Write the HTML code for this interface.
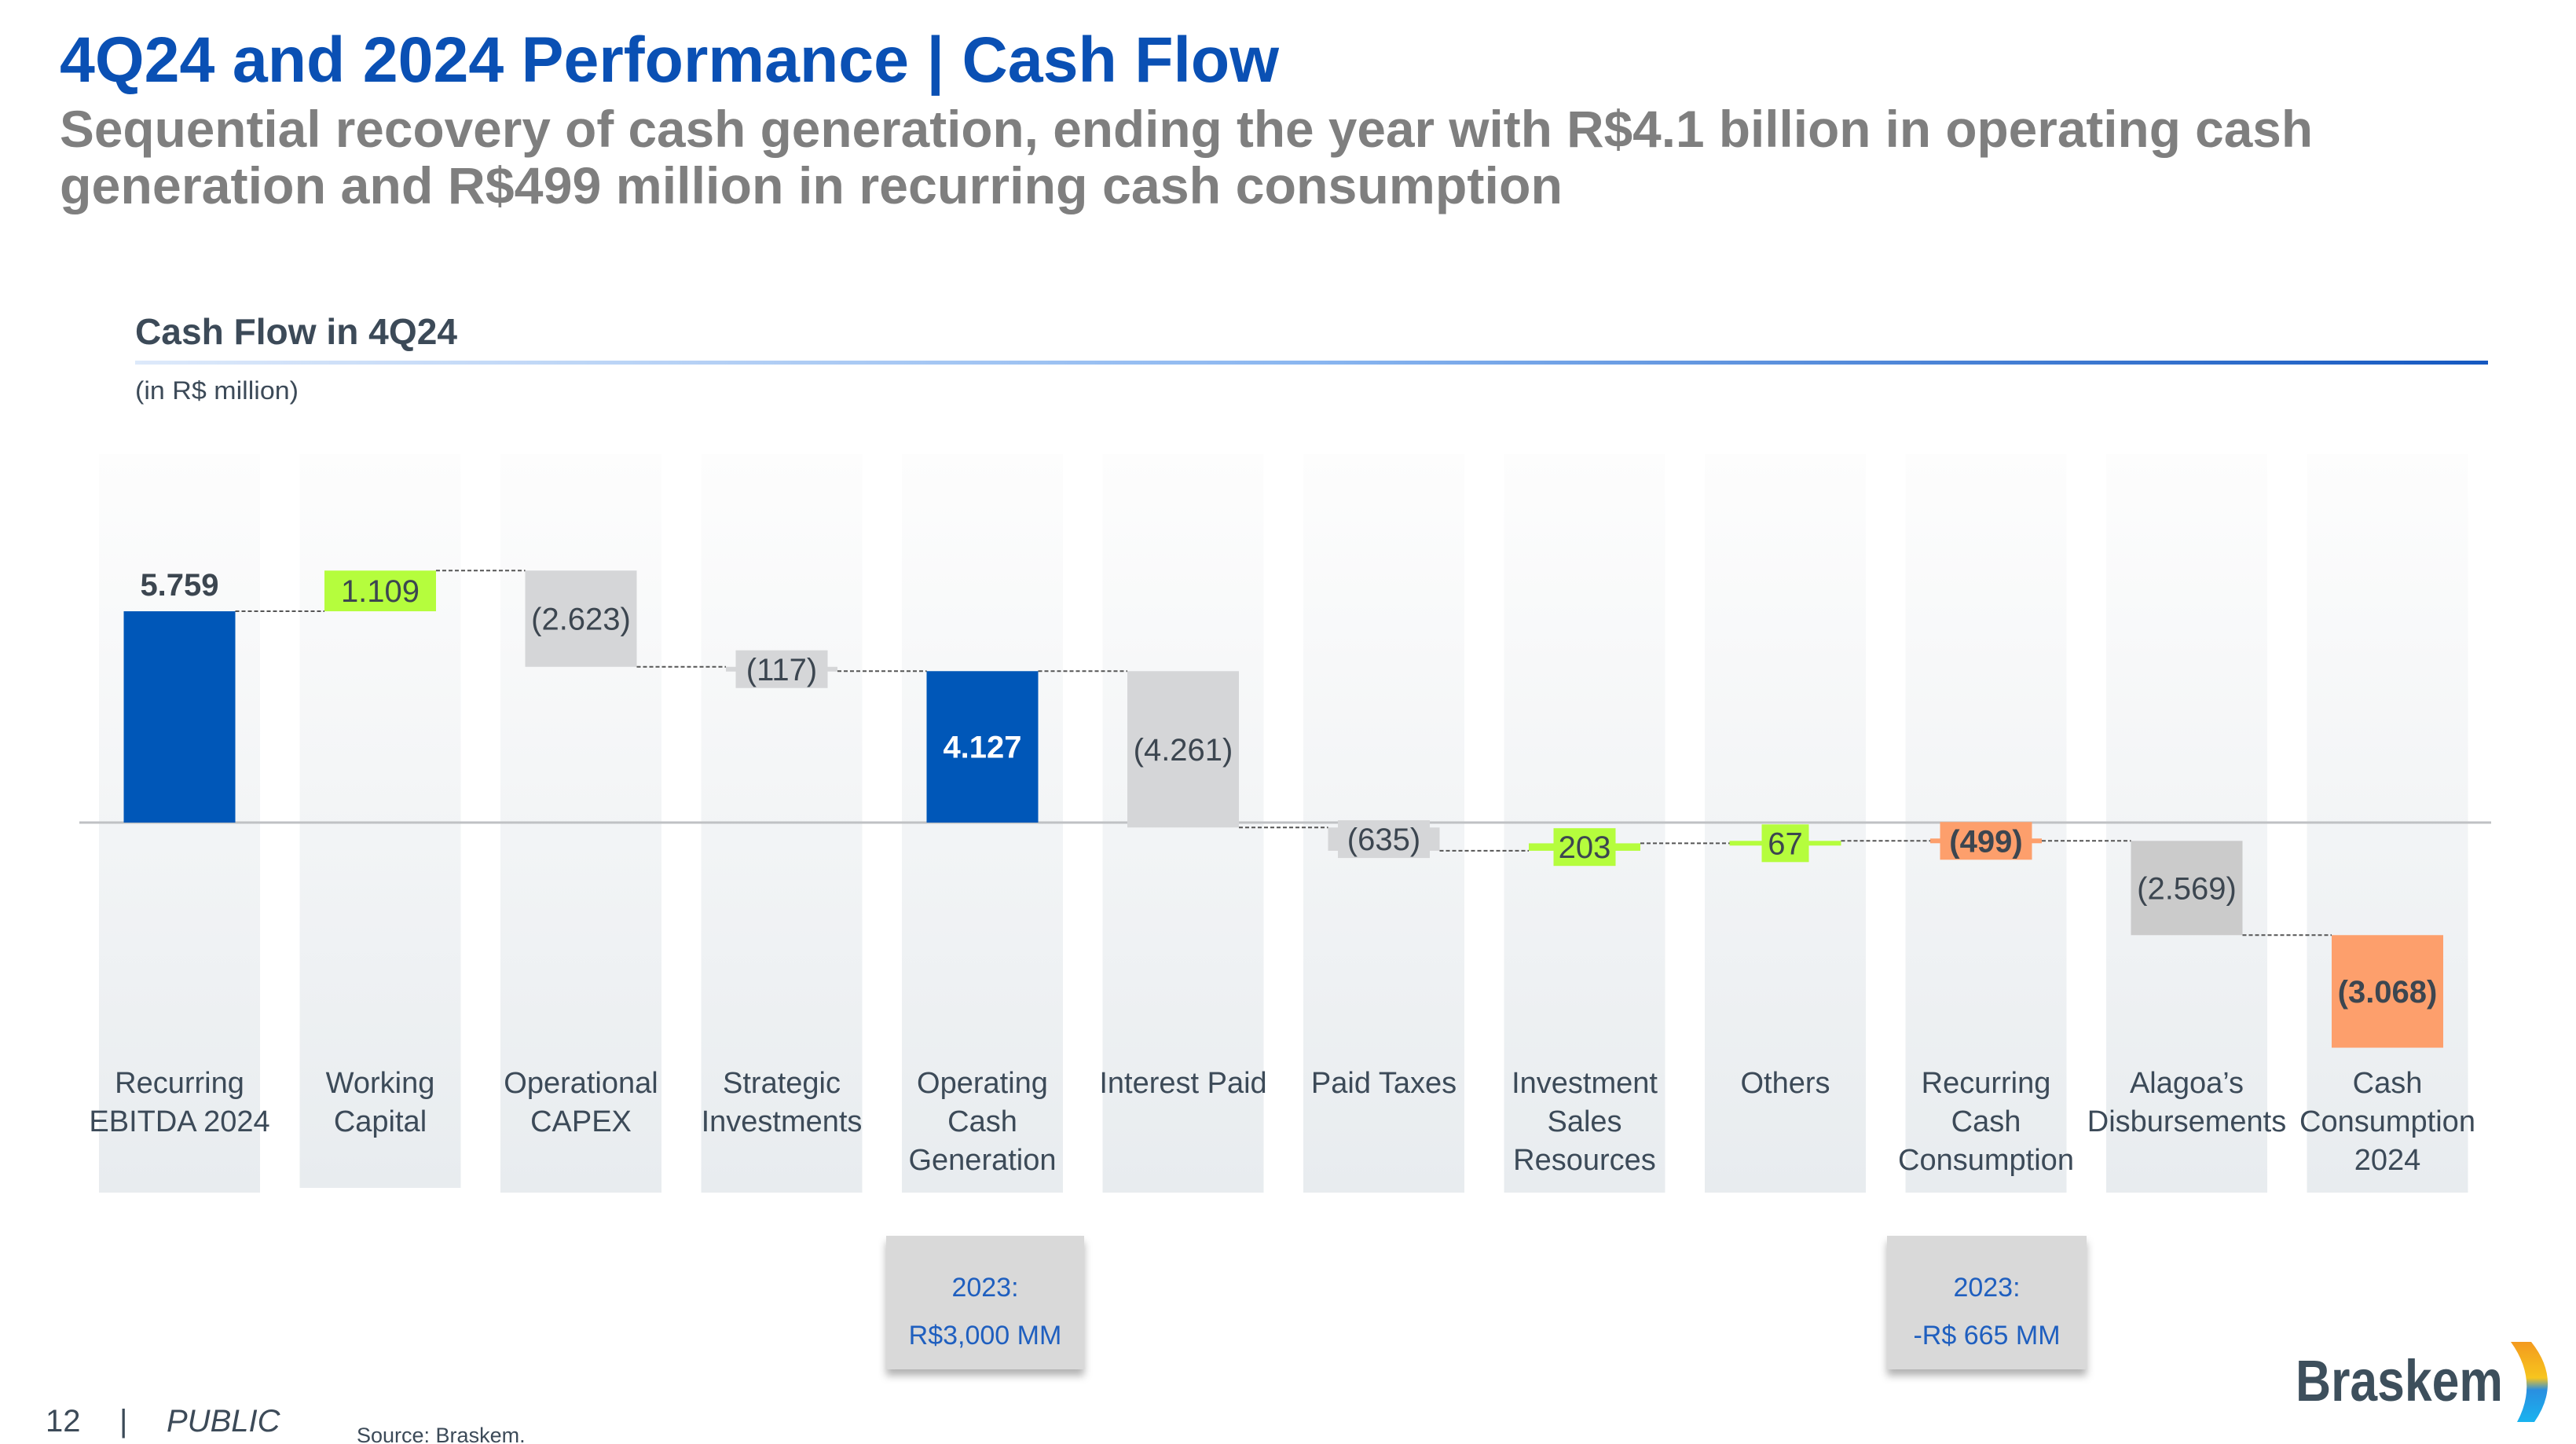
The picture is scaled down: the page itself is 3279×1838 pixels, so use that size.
<!DOCTYPE html>
<html><head><meta charset="utf-8">
<style>
html,body{margin:0;padding:0;background:#fff;}
svg{display:block;font-family:"Liberation Sans",sans-serif;}
</style></head>
<body>
<svg id="chart" width="3279" height="1838" viewBox="0 0 3279 1838" xmlns="http://www.w3.org/2000/svg">
<defs>
<linearGradient id="colbg" x1="0" y1="0" x2="0" y2="1">
<stop offset="0" stop-color="#fdfdfd"/><stop offset="1" stop-color="#e8ecef"/>
</linearGradient>
<linearGradient id="rule" x1="0" y1="0" x2="1" y2="0">
<stop offset="0" stop-color="#dde9fa"/><stop offset="0.5" stop-color="#8ab6f0"/><stop offset="1" stop-color="#1558c0"/>
</linearGradient>
<linearGradient id="swoosh" x1="0" y1="0" x2="0" y2="1">
<stop offset="0" stop-color="#f39a1f"/><stop offset="0.45" stop-color="#f7c51e"/><stop offset="0.6" stop-color="#2a8fe0"/><stop offset="1" stop-color="#19b3ef"/>
</linearGradient>
<filter id="sh" x="-10%" y="-10%" width="120%" height="130%"><feDropShadow dx="0" dy="8" stdDeviation="5" flood-color="#000" flood-opacity="0.3"/></filter>
</defs>

<text x="76" y="104" font-size="82" font-weight="bold" fill="#0a50b4" textLength="1552" lengthAdjust="spacingAndGlyphs">4Q24 and 2024 Performance | Cash Flow</text>
<text x="76" y="187" font-size="66" font-weight="bold" fill="#7f7f7f" textLength="2868" lengthAdjust="spacingAndGlyphs">Sequential recovery of cash generation, ending the year with R$4.1 billion in operating cash</text>
<text x="76" y="259" font-size="66" font-weight="bold" fill="#7f7f7f" textLength="1913" lengthAdjust="spacingAndGlyphs">generation and R$499 million in recurring cash consumption</text>

<text x="172" y="438" font-size="46" font-weight="bold" fill="#3c4a58" textLength="410" lengthAdjust="spacingAndGlyphs">Cash Flow in 4Q24</text>
<rect x="172" y="459" width="2995" height="5" fill="url(#rule)"/>
<text x="172" y="508" font-size="32" fill="#3c4a58" textLength="208" lengthAdjust="spacingAndGlyphs">(in R$ million)</text>

<g id="cols"></g>
<line x1="101" y1="1047" x2="3171" y2="1047" stroke="#bfc1c4" stroke-width="3"/>
<g id="conns"></g>
<g id="bars"></g>
<g id="cats"></g>

<g>
<rect x="1128" y="1573" width="252" height="170" fill="#d9d9d9" filter="url(#sh)"/>
<text x="1254" y="1650" font-size="34" fill="#1f5fbf" text-anchor="middle">2023:</text>
<text x="1254" y="1711" font-size="34" fill="#1f5fbf" text-anchor="middle">R$3,000 MM</text>
</g>
<g>
<rect x="2402" y="1573" width="254" height="170" fill="#d9d9d9" filter="url(#sh)"/>
<text x="2529" y="1650" font-size="34" fill="#1f5fbf" text-anchor="middle">2023:</text>
<text x="2529" y="1711" font-size="34" fill="#1f5fbf" text-anchor="middle">-R$ 665 MM</text>
</g>

<text x="58" y="1822" font-size="40" fill="#3c4a58">12</text>
<text x="152" y="1822" font-size="40" fill="#3c4a58">|</text>
<text x="212" y="1822" font-size="40" font-style="italic" fill="#3c4a58">PUBLIC</text>
<text x="454" y="1836" font-size="27" fill="#3c4a58">Source: Braskem.</text>

<g>
<text x="2922" y="1783" font-size="74" font-weight="bold" fill="#3d4f5c" textLength="264" lengthAdjust="spacingAndGlyphs">Braskem</text>
<path d="M3196 1708 L3222 1708 Q3262 1758 3226 1810 L3204 1810 Q3232 1758 3196 1708 Z" fill="url(#swoosh)"/>
</g>
</svg>
<script>
const categories = [["Recurring","EBITDA 2024"],["Working","Capital"],["Operational","CAPEX"],["Strategic","Investments"],["Operating","Cash","Generation"],["Interest Paid"],["Paid Taxes"],["Investment","Sales","Resources"],["Others"],["Recurring","Cash","Consumption"],["Alagoa’s","Disbursements"],["Cash","Consumption","2024"]];
const values = [5759, 1109, -2623, -117, 4127, -4261, -635, 203, 67, -499, -2569, -3068];
const kinds = ["total","delta","delta","delta","total","delta","delta","delta","delta","total","delta","final"];
const valueLabels = ["5.759","1.109","(2.623)","(117)","4.127","(4.261)","(635)","203","67","(499)","(2.569)","(3.068)"];

const NS = "http://www.w3.org/2000/svg";
const X0 = 126, PITCH = 255.5, COLW = 205, BARW = 142, ZERO = 1047, K = 0.0467;
const colX = i => X0 + i * PITCH;
const cx = i => colX(i) + COLW / 2;
const y = v => ZERO - v * K;
function mk(tag, attrs, parent) { const e = document.createElementNS(NS, tag); for (const k in attrs) e.setAttribute(k, attrs[k]); parent.appendChild(e); return e; }

const cols = document.getElementById('cols'), bars = document.getElementById('bars'), cats = document.getElementById('cats'), conns = document.getElementById('conns');
const colorOf = (k, v, i) => k === "total" ? (v < 0 ? "#fd9f6c" : "#0057b8") : k === "final" ? "#fd9f6c" : (v > 0 ? "#b5fd3d" : (i === 10 ? "#cbcbcb" : "#d5d6d8"));

let run = 0; const spans = [];
values.forEach((v, i) => {
  let s, e;
  if (kinds[i] === "total") { s = 0; e = v; run = v; if (v < 0) { s = v; } }
  else if (kinds[i] === "final") { s = v; e = 2 * v; run = v; }
  else { s = run; e = run + v; run = e; }
  spans.push([s, e]);
});

categories.forEach((lines, i) => {
  const c = mk('rect', {x: colX(i), y: 578, width: COLW, height: i === 1 ? 934 : 940, fill: 'url(#colbg)'}, cols);
  
  
  const t = mk('text', {x: cx(i), 'font-size': 38, fill: '#3c4a58', 'text-anchor': 'middle'}, cats);
  
  
  lines.forEach((ln, j) => { const ts = mk('tspan', {x: cx(i), y: 1391 + j * 49}, t); ts.textContent = ln; });
});

spans.forEach(([s, e], i) => {
  const v = values[i], k = kinds[i];
  let top = Math.min(y(s), y(e)), bot = Math.max(y(s), y(e));
  if (k === "total" && v < 0) { top = y(v) - 3; bot = y(v) + 3; }
  const h = Math.max(bot - top, 6);
  const fill = colorOf(k, v, i);
  const r = mk('rect', {x: cx(i) - BARW / 2, y: top, width: BARW, height: h, fill: fill}, bars);
  
  
  const bold = (k === "total" || k === "final");
  const mid = top + h / 2;
  let ty, col = '#3c4650';
  if (i === 0) { ty = top - 20; }
  else if (h >= 60) { ty = mid + 14; if (k === "total") col = '#ffffff'; }
  else {
    const lw = valueLabels[i].length * 19 + 22;
    const lb = mk('rect', {x: cx(i) - lw / 2, y: mid - 24, width: lw, height: 48, fill: fill}, bars);
    
    
    ty = mid + 14;
  }
  const t = mk('text', {x: cx(i), y: ty, 'font-size': 40, 'font-weight': bold ? 'bold' : 'normal', fill: col, 'text-anchor': 'middle'}, bars);
  
  
  t.textContent = valueLabels[i];
  if (i < values.length - 1) {
    let lvl = e;
    if (k === "total" && v < 0) lvl = v;
    if (k === "final") lvl = v;
    const ln = mk('line', {x1: cx(i) + BARW / 2, x2: cx(i + 1) - BARW / 2, y1: y(lvl), y2: y(lvl), stroke: '#555', 'stroke-width': 2, 'stroke-dasharray': '5 3'}, conns);
    
    
  }
});
</script>
</body></html>
